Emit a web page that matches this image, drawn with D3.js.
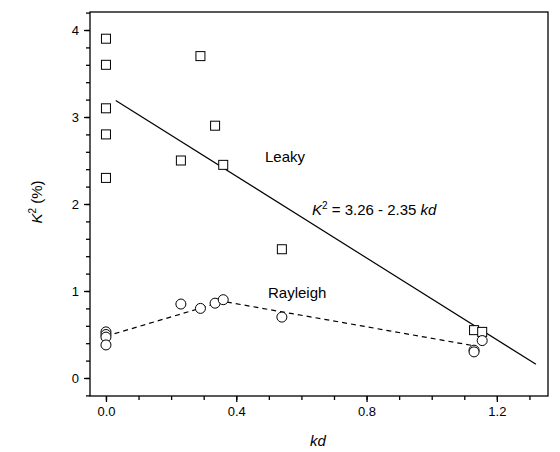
<!DOCTYPE html><html><head><script src="https://cdn.jsdelivr.net/npm/d3@7"></script>
<style>body{margin:0;background:#fff}text{font-family:Arial,"Liberation Sans",sans-serif}</style></head><body>
<svg width="560" height="452"></svg>
<script>
const leakyX=[0,0,0,0,0,0.23,0.29,0.335,0.36,0.54,1.13,1.155];
const leakyY=[3.9,3.6,3.1,2.8,2.3,2.5,3.7,2.9,2.45,1.48,0.55,0.53];
const rayX=[0,0,0,0,0.23,0.29,0.335,0.36,0.54,1.13,1.13,1.155];
const rayY=[0.53,0.5,0.47,0.38,0.85,0.8,0.86,0.9,0.7,0.32,0.3,0.43];
const dashX=[0,0.36,1.13], dashY=[0.48,0.88,0.37];
const fitX=[0.03,1.32];
const xTicks=[0,0.4,0.8,1.2], yTicks=[0,1,2,3,4];
const xMinor=[-0.1,0,0.1,0.2,0.3,0.4,0.5,0.6,0.7,0.8,0.9,1,1.1,1.2,1.3];
const yMinor=d3.range(-0.2,4.21,0.2);
const svg=d3.select("svg");
const x=d3.scaleLinear().domain([-0.049,1.357]).range([90,548]);
const y=d3.scaleLinear().domain([-0.207,4.207]).range([396,12]);
svg.append("rect").attr("x",90).attr("y",12).attr("width",458).attr("height",384).attr("fill","none").attr("stroke","#000").attr("stroke-width",1.3);
svg.append("g").attr("transform","translate(0,396)").call(d3.axisBottom(x).tickValues(xTicks).tickFormat(d3.format(".1f")).tickSize(6).tickPadding(5));
svg.append("g").attr("transform","translate(0,396)").call(d3.axisBottom(x).tickValues(xMinor.filter(v=>x(v)>90&&x(v)<548)).tickFormat("").tickSize(4));
svg.append("g").attr("transform","translate(90,0)").call(d3.axisLeft(y).tickValues(yTicks).tickFormat(d3.format("d")).tickSize(6).tickPadding(5));
svg.append("g").attr("transform","translate(90,0)").call(d3.axisLeft(y).tickValues(yMinor.filter(v=>y(v)>12&&y(v)<396)).tickFormat("").tickSize(4));
svg.selectAll(".domain").remove();
svg.selectAll(".tick line").attr("stroke-width",1.3);
svg.selectAll(".tick text").attr("font-size",13).attr("font-family","Arial");
svg.append("path").attr("d",d3.line()(fitX.map(v=>[x(v),y(3.26-2.35*v)]))).attr("stroke","#000").attr("stroke-width",1.2).attr("fill","none");
svg.append("path").attr("d",d3.line()(dashX.map((v,i)=>[x(v),y(dashY[i])]))).attr("stroke","#000").attr("stroke-width",1.2).attr("stroke-dasharray","5,4").attr("fill","none");
svg.selectAll(".sq").data(leakyX).join("rect").attr("x",(d)=>x(d)-4.5).attr("y",(d,i)=>y(leakyY[i])-4.5).attr("width",9).attr("height",9).attr("fill","#fff").attr("stroke","#000");
svg.selectAll(".ci").data(rayX).join("circle").attr("cx",d=>x(d)).attr("cy",(d,i)=>y(rayY[i])).attr("r",5).attr("fill","#fff").attr("stroke","#000");
svg.append("text").attr("x",265).attr("y",162).attr("font-size",15).text("Leaky");
svg.append("text").attr("x",268).attr("y",298).attr("font-size",15).text("Rayleigh");
const eq=svg.append("text").attr("x",312).attr("y",215).attr("font-size",15);
eq.append("tspan").attr("font-style","italic").text("K");
eq.append("tspan").attr("font-size",10).attr("dy",-6).text("2");
eq.append("tspan").attr("dy",6).text(" = 3.26 - 2.35 ");
eq.append("tspan").attr("font-style","italic").text("kd");
svg.append("text").attr("x",318).attr("y",446).attr("text-anchor","middle").attr("font-size",15).attr("font-style","italic").text("kd");
const yl=svg.append("text").attr("transform","translate(42,202) rotate(-90)").attr("text-anchor","middle").attr("font-size",15);
yl.append("tspan").attr("font-style","italic").text("K");
yl.append("tspan").attr("font-size",10).attr("dy",-6).text("2");
yl.append("tspan").attr("dy",6).text(" (%)");
</script></body></html>
